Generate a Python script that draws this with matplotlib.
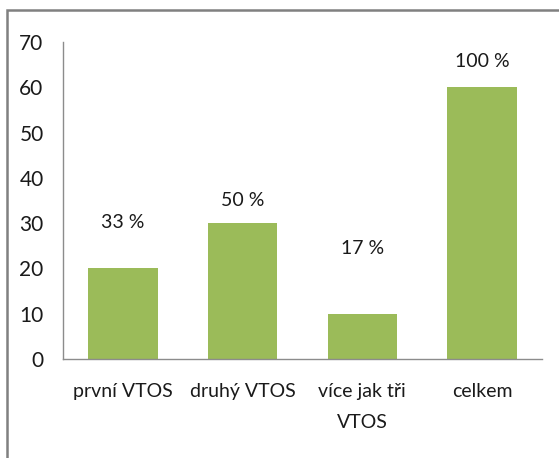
import matplotlib.pyplot as plt
from matplotlib.patches import Rectangle

categories = ["první VTOS", "druhý VTOS", "více jak tři\nVTOS", "celkem"]
values = [20, 30, 10, 60]
pct_labels = ["33 %", "50 %", "17 %", "100 %"]
label_y = [30.2, 34.9, 24.3, 65.8]

plt.rcParams['font.family'] = ['Lato', 'DejaVu Sans']

W, H = 559, 458
fig = plt.figure(figsize=(W / 100, H / 100), dpi=100)
ax = fig.add_axes([63 / W, 1 - 359 / H, (542 - 63) / W, (359 - 42) / H])

x = range(len(categories))
ax.bar(x, values, width=0.58, color="#9bbb59")
for i, (t, y) in enumerate(zip(pct_labels, label_y)):
    ax.text(i, y, t, ha="center", va="center", fontsize=14, color="#1a1a1a")

ax.set_xlim(-0.5, len(categories) - 0.5)
ax.set_ylim(0, 70)
ax.set_yticks(range(0, 71, 10))
ax.set_xticks(list(x))
ax.set_xticklabels(categories, fontsize=14, color="#1a1a1a", linespacing=2.0)
ax.tick_params(axis="y", length=0, pad=14, labelsize=15, labelcolor="#1a1a1a")
ax.tick_params(axis="x", length=0, pad=17)
for s in ["top", "right"]:
    ax.spines[s].set_visible(False)
for s in ["left", "bottom"]:
    ax.spines[s].set_color("#8c8c8c")
    ax.spines[s].set_linewidth(1)

# outer chart border
fig.patches.append(Rectangle((7 / W, -0.1), 1.2, 1 - 10 / H + 0.1, transform=fig.transFigure,
                             fill=False, edgecolor="#808080", linewidth=1.8))

fig.savefig("out.png", dpi=100)
